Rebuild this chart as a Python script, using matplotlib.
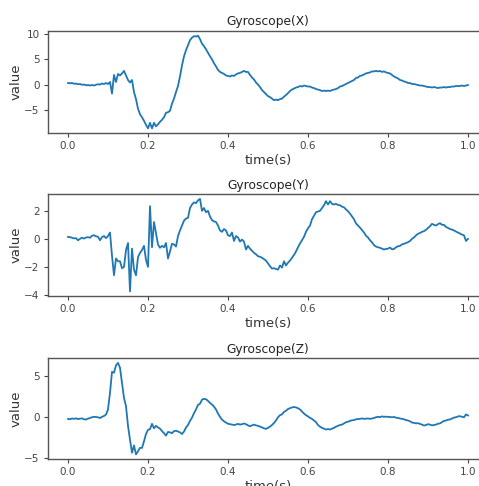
import numpy as np
import matplotlib
matplotlib.use("Agg")
import matplotlib.pyplot as plt

# time axis: 201 samples over 1 second
time_s = np.linspace(0.0, 1.0, 201)

gyro_x = [
    0.30, 0.25, 0.30, 0.15, 0.20, 0.05, 0.10, -0.05, 0.00, -0.15,
    -0.10, -0.20, -0.10, -0.20, -0.05, 0.05, 0.00, 0.20, 0.10, 0.30,
    0.10, 0.5, -1.8, 1.9, 0.5, 2.1, 1.8, 2.2, 2.7, 1.8,
    0.9, 0.4, 0.9, -1.5, -2.9, -4.8, -5.9, -6.5, -7.2, -8.0,
    -8.7, -7.6, -8.7, -7.6, -8.3, -7.9, -7.4, -7.0, -6.5, -5.6,
    -5.5, -5.2, -3.8, -2.8, -1.5, -0.3, 1.6, 3.8, 5.6, 6.8,
    7.8, 8.8, 9.3, 9.6, 9.5, 9.7, 9.0, 8.1, 7.6, 7.0,
    6.3, 5.6, 5.0, 4.2, 3.6, 2.9, 2.5, 2.3, 2.1, 1.8,
    1.7, 1.6, 1.8, 1.7, 2.0, 2.2, 2.3, 2.5, 2.7, 2.5,
    2.5, 1.9, 1.4, 1.0, 0.4, 0.0, -0.5, -1.1, -1.5, -1.9,
    -2.3, -2.5, -2.8, -3.1, -3.0, -3.1, -2.9, -2.8, -2.4, -2.1,
    -1.7, -1.3, -1.0, -0.8, -0.6, -0.5, -0.3, -0.4, -0.2, -0.3,
    -0.4, -0.4, -0.6, -0.7, -0.9, -1.0, -1.1, -1.3, -1.2, -1.3,
    -1.2, -1.3, -1.1, -1.0, -0.9, -0.7, -0.4, -0.3, -0.1, 0.1,
    0.3, 0.5, 0.7, 0.9, 1.3, 1.4, 1.7, 1.8, 2.0, 2.2,
    2.3, 2.4, 2.6, 2.6, 2.7, 2.6, 2.7, 2.5, 2.6, 2.4,
    2.3, 2.2, 1.9, 1.6, 1.4, 1.2, 0.9, 0.8, 0.6, 0.5,
    0.3, 0.3, 0.1, 0.1, 0.0, -0.1, -0.2, -0.2, -0.3, -0.4,
    -0.5, -0.5, -0.6, -0.5, -0.6, -0.7, -0.6, -0.6, -0.5, -0.6,
    -0.5, -0.5, -0.4, -0.4, -0.3, -0.3, -0.3, -0.2, -0.3, -0.2,
    -0.1,
]

gyro_y = [
    0.14, 0.12, 0.08, 0.03, 0.05, -0.10, 0.00, 0.08, 0.02, 0.10,
    0.12, 0.08, 0.22, 0.26, 0.18, 0.15, -0.10, 0.12, 0.20, 0.05,
    0.20, 0.45, -1.2, -2.6, -1.4, -1.6, -1.6, -2.1, -2.0, -0.8,
    -0.3, -3.75, -0.7, -2.2, -2.6, -1.3, -1.0, -0.8, -0.5, -1.5,
    -2.0, 2.33, -0.6, 1.2, 0.4, -0.4, -0.64, -0.5, -0.6, -0.3,
    -1.4, -0.9, -0.35, -0.4, -0.55, 0.2, 0.6, 0.95, 1.3, 1.45,
    1.5, 2.2, 2.45, 2.6, 2.55, 2.75, 2.85, 2.0, 2.2, 1.9,
    2.0, 1.6, 1.33, 1.25, 1.2, 0.95, 0.6, 0.5, 0.7, 0.6,
    0.25, 0.2, 0.45, -0.15, 0.2, 0.1, -0.2, -0.05, -0.2, -0.76,
    -0.5, -0.7, -0.85, -1.0, -1.1, -1.24, -1.28, -1.35, -1.45, -1.55,
    -1.75, -1.95, -2.12, -2.1, -2.15, -2.2, -1.9, -2.05, -1.6, -1.9,
    -1.7, -1.55, -1.35, -1.15, -0.9, -0.6, -0.33, -0.1, 0.15, 0.5,
    0.75, 0.95, 1.4, 1.65, 1.9, 1.95, 2.0, 2.2, 2.4, 2.69,
    2.45, 2.69, 2.5, 2.45, 2.5, 2.42, 2.4, 2.3, 2.25, 2.1,
    1.97, 1.8, 1.6, 1.4, 1.1, 0.95, 0.8, 0.62, 0.45, 0.22,
    0.1, -0.1, -0.25, -0.45, -0.55, -0.6, -0.64, -0.7, -0.76, -0.72,
    -0.7, -0.62, -0.75, -0.72, -0.6, -0.53, -0.5, -0.4, -0.35, -0.3,
    -0.24, -0.15, 0.0, 0.1, 0.25, 0.36, 0.42, 0.5, 0.55, 0.65,
    0.78, 0.9, 1.07, 1.0, 0.95, 1.05, 1.12, 1.0, 1.0, 0.85,
    0.78, 0.7, 0.66, 0.6, 0.52, 0.45, 0.38, 0.3, 0.25, -0.15,
    0.0,
]

gyro_z = [
    -0.25, -0.30, -0.20, -0.25, -0.18, -0.28, -0.22, -0.20, -0.30, -0.33,
    -0.22, -0.15, -0.05, 0.00, -0.03, -0.05, -0.15, 0.00, 0.10, 0.28,
    0.9, 2.95, 5.5, 5.4, 6.3, 6.6, 6.0, 4.2, 2.3, 1.3,
    -1.1, -2.8, -4.4, -3.5, -4.6, -4.2, -3.8, -3.8, -3.0, -2.1,
    -1.6, -1.5, -0.86, -1.4, -1.1, -1.3, -1.45, -1.75, -2.0, -2.3,
    -1.85, -1.9, -2.0, -1.75, -1.7, -1.8, -1.9, -2.1, -1.8, -1.3,
    -1.0, -0.5, -0.1, 0.45, 0.9, 1.45, 1.6, 2.1, 2.2, 2.15,
    1.95, 1.7, 1.5, 1.25, 0.9, 0.4, 0.0, -0.35, -0.55, -0.7,
    -0.85, -0.9, -0.95, -1.0, -0.95, -0.86, -0.95, -0.9, -0.82, -0.9,
    -1.05, -1.15, -1.05, -0.95, -1.05, -1.1, -1.2, -1.3, -1.4, -1.48,
    -1.35, -1.2, -1.0, -0.75, -0.45, -0.05, 0.2, 0.3, 0.6, 0.75,
    0.95, 1.06, 1.15, 1.2, 1.15, 1.05, 0.9, 0.65, 0.4, 0.2,
    0.05, -0.13, -0.25, -0.45, -0.65, -1.0, -1.2, -1.35, -1.45, -1.55,
    -1.5, -1.55, -1.45, -1.35, -1.2, -1.1, -1.0, -0.95, -0.8, -0.66,
    -0.6, -0.5, -0.42, -0.4, -0.3, -0.28, -0.25, -0.2, -0.25, -0.22,
    -0.2, -0.25, -0.2, -0.15, -0.05, 0.0, -0.05, 0.05, 0.0, 0.02,
    0.0, -0.03, -0.05, -0.02, -0.1, -0.15, -0.2, -0.25, -0.3, -0.4,
    -0.45, -0.55, -0.7, -0.74, -0.8, -0.78, -0.86, -0.95, -1.07, -1.0,
    -0.9, -0.95, -1.05, -1.0, -0.95, -0.85, -0.8, -0.65, -0.5, -0.45,
    -0.35, -0.33, -0.2, -0.1, -0.05, 0.05, 0.08, 0.0, -0.05, 0.29,
    0.17,
]

titles = ["Gyroscope(X)", "Gyroscope(Y)", "Gyroscope(Z)"]
series = [gyro_x, gyro_y, gyro_z]
yticks = [[-5, 0, 5, 10], [-4, -2, 0, 2], [-5, 0, 5]]
xticks = [0.0, 0.2, 0.4, 0.6, 0.8, 1.0]

W, H = 479, 486
fig = plt.figure(figsize=(W / 100, H / 100), dpi=100)

# axes boxes in pixels: (left, top, right, bottom)
boxes = [(48, 31, 488, 133), (48, 194.3, 488, 296), (48, 358.3, 488, 459)]

spine_col = "#555555"
text_col = "#333333"
for box, title, vals, yt in zip(boxes, titles, series, yticks):
    l, t, r, b = box
    ax = fig.add_axes([l / W, (H - b) / H, (r - l) / W, (b - t) / H])
    ax.plot(time_s, vals, color="#1f77b4", lw=1.3)
    ax.set_xlim(-0.05, 1.05)
    ax.set_xticks(xticks)
    ax.set_yticks(yt)
    ax.set_title(title, fontsize=8.8, pad=4, color="#222222")
    ax.set_xlabel("time(s)", fontsize=9.5, color=text_col, labelpad=2)
    ax.set_ylabel("value", fontsize=9.5, color=text_col, labelpad=1)
    ax.spines["right"].set_visible(False)
    for s in ["left", "top", "bottom"]:
        ax.spines[s].set_color(spine_col)
        ax.spines[s].set_linewidth(1.0)
    ax.tick_params(axis="both", labelsize=7.5, colors="#444444", length=3, width=0.8, pad=3)

fig.savefig("out.png", dpi=100)
